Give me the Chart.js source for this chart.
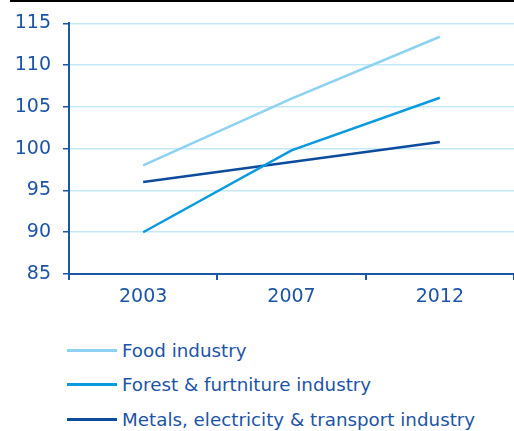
<!DOCTYPE html>
<html lang="en">
<head>
  <meta charset="UTF-8" />
  <title>Industry index</title>
  <style>
    body {
      margin: 0;
      width: 514px;
      height: 431px;
      background: #fff;
      font-family: "DejaVu Sans", sans-serif;
      position: relative;
      overflow: hidden;
    }
    .topline {
      position: absolute;
      top: 0;
      left: 10px;
      right: 0;
      height: 2px;
      background: #000;
    }
    canvas {
      position: absolute;
      top: 0;
      left: 0;
    }
    #legend {
      position: absolute;
      left: 67px;
      top: 333px;
    }
    .item {
      height: 34.5px;
      display: flex;
      align-items: center;
      color: #1c54a6;
      font-size: 18.3px;
      white-space: nowrap;
    }
    .swatch {
      width: 50px;
      height: 3px;
      margin-right: 5px;
    }
  </style>
</head>
<body>
  <div class="topline"></div>
  <canvas id="chart" width="514" height="315"></canvas>
  <div id="legend"></div>

  <script src="https://cdn.jsdelivr.net/npm/chart.js"></script>
  <script>
    const years = ['2003', '2007', '2012'];
    const food = [98.0, 106.0, 113.4];
    const forest = [90.0, 99.8, 106.1];
    const metals = [96.0, 98.4, 100.8];
    const seriesNames = ['Food industry', 'Forest & furtniture industry', 'Metals, electricity & transport industry'];
    const seriesColors = ['#8dd2f2', '#0a9ade', '#0d4c9c'];
    const yTicks = [85, 90, 95, 100, 105, 110, 115];

    const textColor = '#1c54a6';
    const axisColor = '#1b57a5';
    const gridColor = '#c6e9f8';

    const seriesData = [food, forest, metals];
    const datasets = seriesData.map((d, i) => ({
      label: seriesNames[i],
      data: d,
      borderColor: seriesColors[i],
      borderWidth: 2.5,
      pointRadius: 0,
      fill: false,
      tension: 0
    }));

    new Chart(document.getElementById('chart'), {
      type: 'line',
      data: { labels: years, datasets: datasets },
      options: {
        responsive: false,
        animation: false,
        layout: { padding: { top: 22, right: 0, left: 0, bottom: 0 } },
        plugins: {
          legend: { display: false },
          tooltip: { enabled: false }
        },
        scales: {
          x: {
            offset: true,
            grid: {
              offset: true,
              drawOnChartArea: false,
              tickLength: 6,
              tickColor: axisColor,
              lineWidth: 2
            },
            border: { color: axisColor, width: 2 },
            ticks: {
              color: textColor,
              padding: 6,
              font: { family: 'DejaVu Sans', size: 19 }
            },
            afterFit: s => { s.height = 41; }
          },
          y: {
            min: 85,
            max: 115,
            afterBuildTicks: s => { s.ticks = yTicks.map(v => ({ value: v })); },
            grid: {
              color: gridColor,
              lineWidth: 1.5,
              tickLength: 6,
              tickColor: axisColor
            },
            border: { color: axisColor, width: 2 },
            ticks: {
              color: textColor,
              padding: 12,
              font: { family: 'DejaVu Sans', size: 19 }
            },
            afterFit: s => { s.width = 69; }
          }
        }
      }
    });

    const legend = document.getElementById('legend');
    seriesNames.forEach((name, i) => {
      const row = document.createElement('div');
      row.className = 'item';
      const sw = document.createElement('span');
      sw.className = 'swatch';
      sw.style.background = seriesColors[i];
      const label = document.createElement('span');
      label.textContent = name;
      row.appendChild(sw);
      row.appendChild(label);
      legend.appendChild(row);
    });
  </script>
</body>
</html>
